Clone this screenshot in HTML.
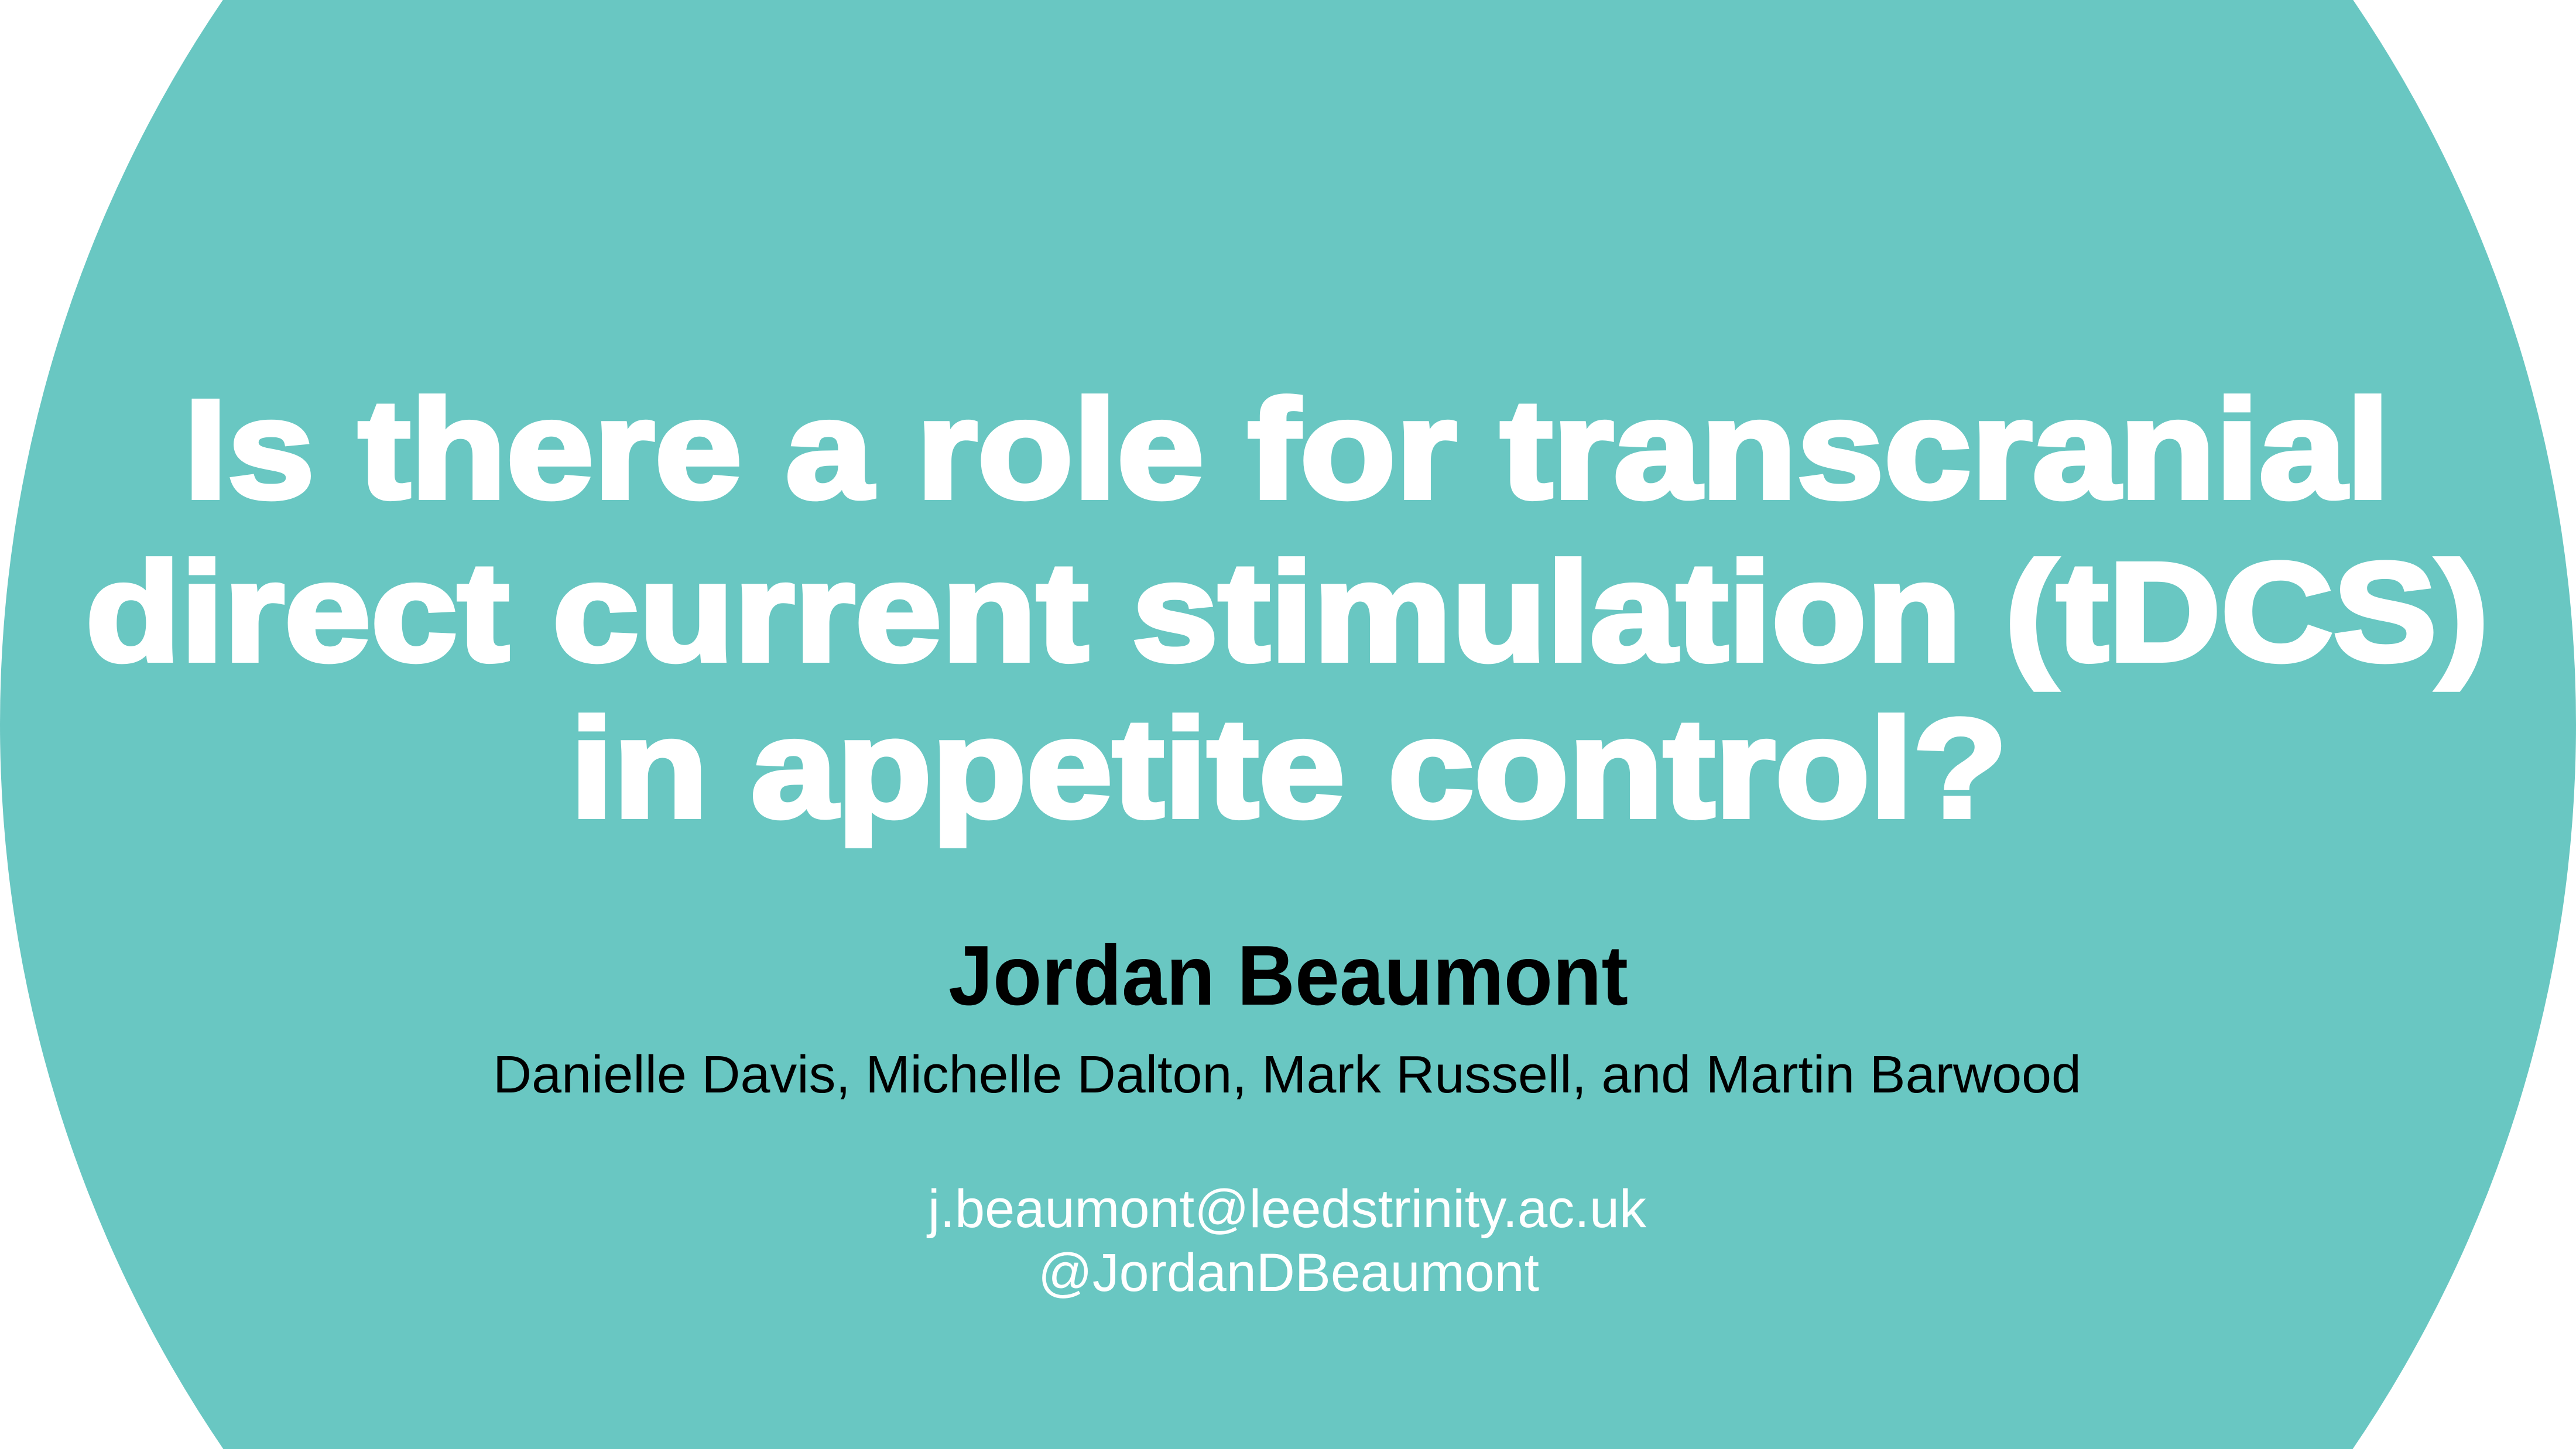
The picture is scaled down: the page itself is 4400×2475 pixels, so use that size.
<!DOCTYPE html>
<html><head><meta charset="utf-8"><style>
html,body{margin:0;padding:0;background:#fff;width:4400px;height:2475px;overflow:hidden;}
svg{display:block;}
</style></head><body>
<svg width="4400" height="2475" viewBox="0 0 4400 2475" xmlns="http://www.w3.org/2000/svg">
<rect x="0" y="0" width="4400" height="2475" fill="#ffffff"/>
<path d="M380.7,0 L4019.3,0 A2200,2200 0 0 1 4018.6,2475 L381.4,2475 A2200,2200 0 0 1 380.7,0 Z" fill="#69C7C2"/>
<g font-family="'Liberation Sans', Arial, sans-serif" font-weight="bold" fill="#ffffff" font-size="240">
<text x="314" y="850" textLength="3768" lengthAdjust="spacingAndGlyphs" stroke="#ffffff" stroke-width="8">Is there a role for transcranial</text>
<text x="146" y="1128" textLength="4105" lengthAdjust="spacingAndGlyphs" stroke="#ffffff" stroke-width="8">direct current stimulation (tDCS)</text>
<text x="974" y="1395" textLength="2455" lengthAdjust="spacingAndGlyphs" stroke="#ffffff" stroke-width="8">in appetite control?</text>
</g>
<text x="1620" y="1716" font-family="'Liberation Sans', Arial, sans-serif" font-weight="bold" font-size="145" fill="#000" textLength="1161" lengthAdjust="spacingAndGlyphs">Jordan Beaumont</text>
<text x="842" y="1866" font-family="'Liberation Sans', Arial, sans-serif" font-size="90" fill="#000" textLength="2713" lengthAdjust="spacingAndGlyphs">Danielle Davis, Michelle Dalton, Mark Russell, and Martin Barwood</text>
<text x="1585" y="2096" font-family="'Liberation Sans', Arial, sans-serif" font-size="92" fill="#fff" textLength="1227" lengthAdjust="spacingAndGlyphs">j.beaumont@leedstrinity.ac.uk</text>
<text x="1773" y="2205" font-family="'Liberation Sans', Arial, sans-serif" font-size="92" fill="#fff" textLength="856" lengthAdjust="spacingAndGlyphs">@JordanDBeaumont</text>
</svg>
</body></html>
